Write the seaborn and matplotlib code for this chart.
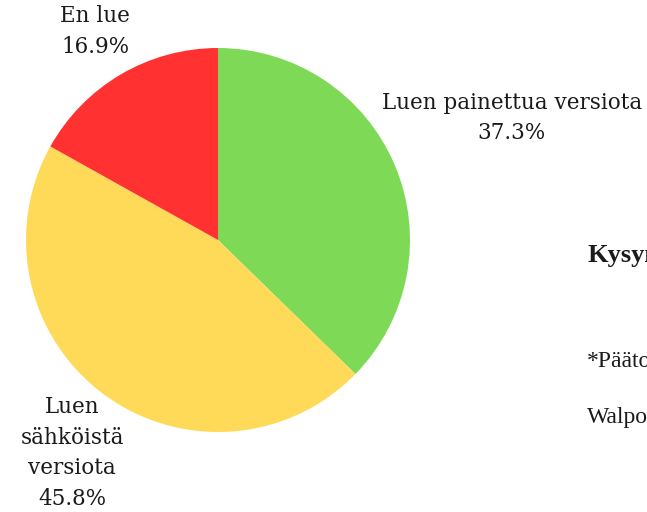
import matplotlib
matplotlib.use("Agg")
import matplotlib.pyplot as plt
import seaborn as sns

categories = ["Luen painettua versiota", "Luen sähköistä versiota", "En lue"]
label_texts = ["Luen painettua versiota", "Luen\nsähköistä\nversiota", "En lue"]
values = [37.3, 45.8, 16.9]
colors = ["#7ED957", "#FFDA59", "#FF3131"]

sns.set_theme(style="white")
plt.rcParams["font.family"] = ["DejaVu Serif", "DejaVu Sans"]

W, H = 647, 512
fig = plt.figure(figsize=(W / 100, H / 100), dpi=100)
fig.patch.set_facecolor("white")

cx, cy, r = 218, 240, 192
ax = fig.add_axes([(cx - r) / W, (H - cy - r) / H, 2 * r / W, 2 * r / H])
ax.pie(values, colors=colors, startangle=90, counterclock=False,
       wedgeprops=dict(linewidth=0), radius=1)
ax.set_xlim(-1, 1)
ax.set_ylim(-1, 1)
ax.set_aspect("equal")
ax.axis("off")

label_pos = [(1.53, 0.635), (-0.76, -1.11), (-0.64, 1.086)]
for txt, v, (x, y) in zip(label_texts, values, label_pos):
    ax.text(x, y, f"{txt}\n{v:.1f}%", ha="center", va="center",
            fontsize=15.5, color="#1a1a1a", linespacing=1.5, clip_on=False)

fig.text(587 / W, 1 - 262 / H, "Kysymys", fontsize=19, fontweight="bold",
         family=["Liberation Serif"], color="#1a1a1a", ha="left", va="baseline")
fig.text(587 / W, 1 - 367 / H, "*Päätoimittaja", fontsize=17,
         family=["Liberation Serif"], color="#1a1a1a", ha="left", va="baseline")
fig.text(587 / W, 1 - 423 / H, "Walpon", fontsize=17,
         family=["Liberation Serif"], color="#1a1a1a", ha="left", va="baseline")

fig.savefig("out.png", dpi=100, facecolor="white")
